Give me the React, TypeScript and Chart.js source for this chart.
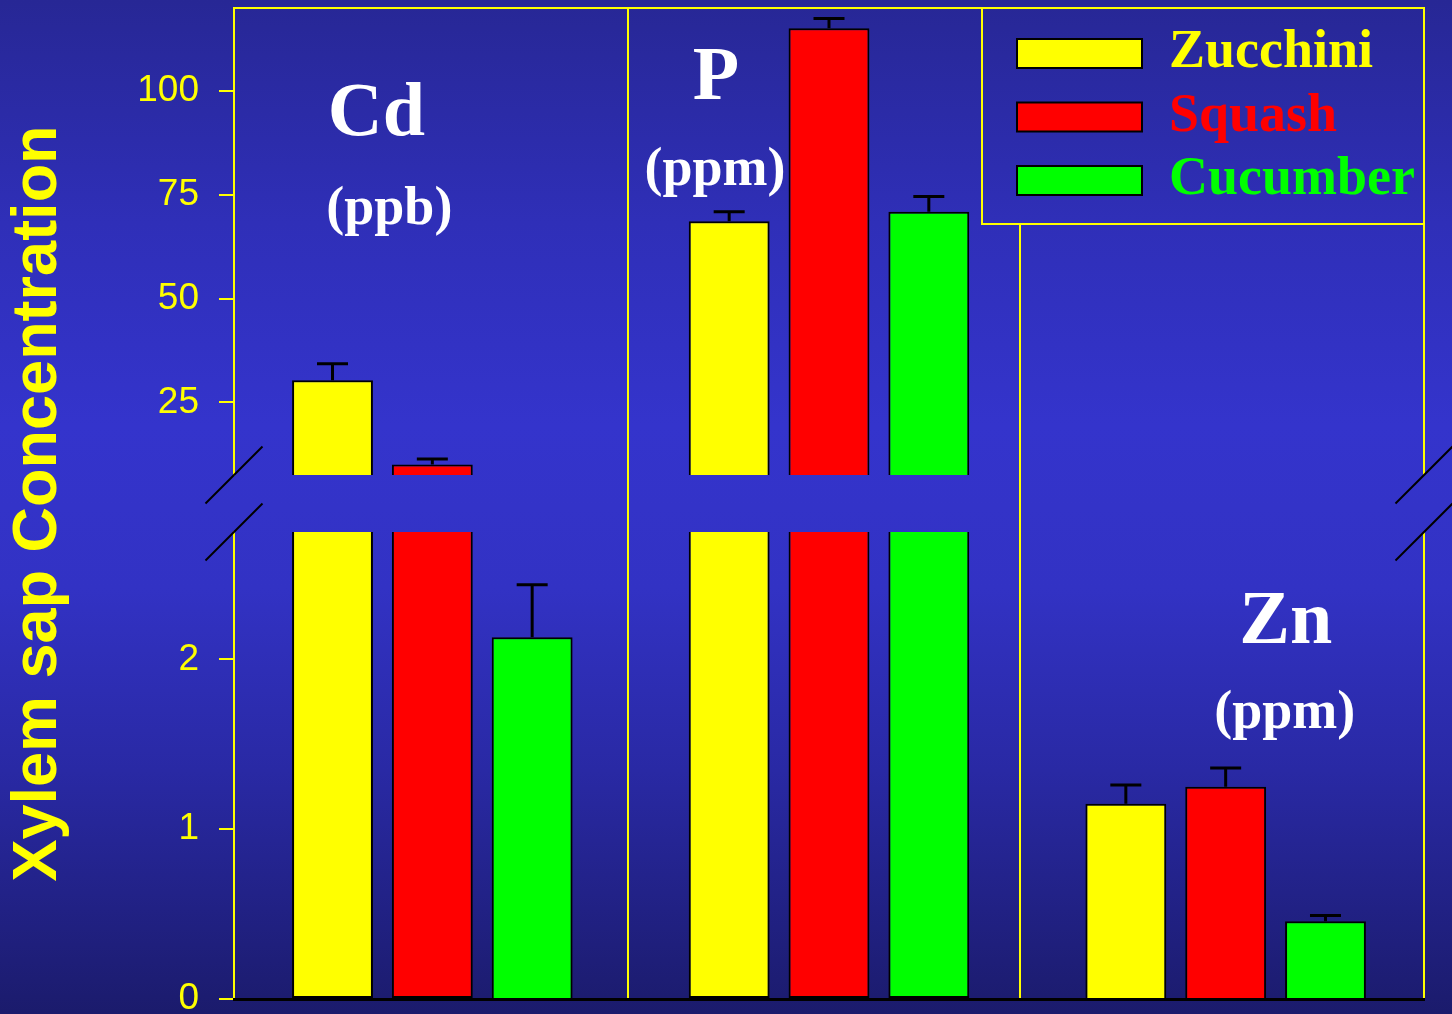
import React, { useEffect, useRef } from 'react';
import { Chart, registerables } from 'chart.js';

Chart.register(...registerables);

// ---- data ----
const CATEGORIES = ['Cd', 'P', 'Zn'];
const UNITS = ['(ppb)', '(ppm)', '(ppm)'];
const SERIES_NAMES = ['Zucchini', 'Squash', 'Cucumber'];
const ZUCCHINI = [30.3, 68.6, 1.15];
const SQUASH = [10.0, 115.1, 1.25];
const CUCUMBER = [2.13, 70.9, 0.458];
const ZUCCHINI_ERR = [4.0, 2.3, 0.11];
const SQUASH_ERR = [1.37, 2.4, 0.11];
const CUCUMBER_ERR = [0.31, 3.7, 0.033];
const LOWER_TICKS = [0, 1, 2];
const UPPER_TICKS = [25, 50, 75, 100];
const LOWER_RANGE = [0, 2.75];
const UPPER_RANGE = [7.5, 120];
const Y_TITLE = 'Xylem sap Concentration';

// ---- styles / layout ----
const SERIES_COLORS = ['#ffff00', '#ff0000', '#00ff00'];
const YELLOW = '#ffff00';
const AXIS_WIDTH = 234;
const SEPARATOR_SHIFT = [-3, -7];
const LABEL_LAYOUT = [
  { dx: -56, nameY: 127, unitDx: -43, unitY: 216 },
  { dx: -113, nameY: 91, unitDx: -114, unitY: 177 },
  { dx: 60, nameY: 635, unitDx: 59, unitY: 720 },
];

const decorPlugin = {
  id: 'decor',
  afterLayout(chart: any) {
    const lg = chart.legend;
    const ca = chart.chartArea;
    if (!lg) return;
    const w = lg.width;
    const h = lg.height;
    lg.left = ca.right - 416.5;
    lg.top = ca.top + 9;
    lg.right = lg.left + w;
    lg.bottom = lg.top + h;
  },
  beforeDatasetsDraw(chart: any) {
    const { ctx, chartArea: ca, scales } = chart;
    const xs = scales.x;
    const hi = scales.yHigh;
    const lo = scales.yLow;
    const boxL = ca.right - 442;
    const boxB = ca.top + 216;
    const line = (x1: number, y1: number, x2: number, y2: number) => {
      ctx.beginPath();
      ctx.moveTo(x1, y1);
      ctx.lineTo(x2, y2);
      ctx.stroke();
    };
    ctx.save();
    ctx.strokeStyle = YELLOW;
    ctx.lineWidth = 2;
    line(ca.left, ca.top, ca.right, ca.top);
    line(ca.right, hi.top, ca.right, hi.bottom);
    line(ca.right, lo.top, ca.right, lo.bottom);
    for (let i = 0; i < CATEGORIES.length - 1; i++) {
      const px = Math.round(xs.getPixelForValue(i + 0.5)) + (SEPARATOR_SHIFT[i] || 0);
      const y0 = px > boxL ? boxB : ca.top;
      line(px, y0, px, ca.bottom);
    }
    ctx.strokeRect(boxL, ca.top, ca.right - boxL, boxB - ca.top);
    ctx.restore();
  },
  afterDatasetsDraw(chart: any) {
    const { ctx, chartArea: ca, scales } = chart;
    const xs = scales.x;
    const hi = scales.yHigh;
    const lo = scales.yLow;
    const values = [ZUCCHINI, SQUASH, CUCUMBER];
    const errors = [ZUCCHINI_ERR, SQUASH_ERR, CUCUMBER_ERR];
    ctx.save();
    // error bars
    ctx.strokeStyle = '#000';
    ctx.lineWidth = 3;
    values.forEach((vals, s) => {
      const meta = chart.getDatasetMeta(s);
      vals.forEach((v, i) => {
        const el = meta.data[i];
        if (!el) return;
        const sc = v > LOWER_RANGE[1] ? hi : lo;
        const y0 = sc.getPixelForValue(v);
        const y1 = sc.getPixelForValue(v + errors[s][i]);
        ctx.beginPath();
        ctx.moveTo(el.x, y0);
        ctx.lineTo(el.x, y1);
        ctx.moveTo(el.x - 15.5, y1);
        ctx.lineTo(el.x + 15.5, y1);
        ctx.stroke();
      });
    });
    // axis break marks
    ctx.lineWidth = 2;
    [ca.left, ca.right].forEach((xc: number) => {
      [hi.bottom, lo.top].forEach((yc: number) => {
        ctx.beginPath();
        ctx.moveTo(xc - 28.5, yc + 28.5);
        ctx.lineTo(xc + 28.5, yc - 28.5);
        ctx.stroke();
      });
    });
    // element labels
    ctx.fillStyle = '#ffffff';
    ctx.textAlign = 'center';
    ctx.textBaseline = 'alphabetic';
    CATEGORIES.forEach((name, i) => {
      const cx = xs.getPixelForValue(i);
      const L = LABEL_LAYOUT[i];
      ctx.font = 'bold 76px "Liberation Serif"';
      ctx.fillText(name, cx + L.dx, ca.top + L.nameY);
      ctx.font = 'bold 54px "Liberation Serif"';
      ctx.fillText(UNITS[i], cx + L.unitDx, ca.top + L.unitY);
    });
    ctx.restore();
  },
};

function yScale(range: number[], tickVals: number[], weight: number, stackWeight: number) {
  return {
    type: 'linear',
    axis: 'y',
    position: 'left',
    stack: 'v',
    stackWeight,
    weight,
    min: range[0],
    max: range[1],
    stacked: false,
    afterBuildTicks: (axis: any) => {
      axis.ticks = tickVals.map((value) => ({ value }));
    },
    afterFit: (axis: any) => {
      axis.width = AXIS_WIDTH;
      axis.paddingTop = 0;
      axis.paddingBottom = 0;
      axis.paddingLeft = 0;
      axis.paddingRight = 0;
    },
    ticks: {
      color: YELLOW,
      font: { family: 'Liberation Sans', size: 37 },
      padding: 20,
    },
    grid: {
      display: true,
      drawOnChartArea: false,
      drawTicks: true,
      tickLength: 15,
      color: YELLOW,
      lineWidth: 2,
    },
    border: { display: true, color: YELLOW, width: 2 },
  };
}

export default function App() {
  const ref = useRef<HTMLCanvasElement>(null);

  useEffect(() => {
    if (!ref.current) return;
    const values = [ZUCCHINI, SQUASH, CUCUMBER];
    const lowMax = LOWER_RANGE[1];
    const highMin = UPPER_RANGE[0];

    const lowerSets = SERIES_NAMES.map((name, s) => ({
      label: name,
      data: values[s].map((v) => Math.min(v, lowMax)),
      yAxisID: 'yLow',
      stack: name,
      backgroundColor: SERIES_COLORS[s],
      borderColor: '#000000',
      borderWidth: 2,
      borderSkipped: values[s].map((v) => (v > lowMax ? 'top' : 'start')),
    }));
    const upperSets = SERIES_NAMES.map((name, s) => ({
      label: name + ' (upper)',
      data: values[s].map((v) => (v > highMin ? v : null)),
      yAxisID: 'yHigh',
      stack: name,
      backgroundColor: SERIES_COLORS[s],
      borderColor: '#000000',
      borderWidth: 2,
      borderSkipped: 'start',
    }));

    const chart = new Chart(ref.current, {
      type: 'bar',
      data: {
        labels: CATEGORIES,
        datasets: [...lowerSets, ...upperSets] as any,
      },
      options: {
        animation: false,
        responsive: true,
        maintainAspectRatio: false,
        layout: { padding: { top: 8, right: 28, bottom: 15, left: 0 } },
        datasets: {
          bar: { categoryPercentage: 0.755, barPercentage: 0.81 },
        },
        scales: {
          x: {
            type: 'category',
            ticks: { display: false },
            grid: { display: false, drawTicks: false },
            border: { display: true, color: '#000000', width: 3, z: 1 },
            afterFit: (axis: any) => {
              axis.height = 0;
              axis.paddingLeft = 0;
              axis.paddingRight = 0;
              axis.paddingTop = 0;
              axis.paddingBottom = 0;
            },
          },
          yHigh: yScale(UPPER_RANGE, UPPER_TICKS, 3, 467),
          yGap: {
            type: 'linear',
            axis: 'y',
            position: 'left',
            stack: 'v',
            stackWeight: 57,
            weight: 2,
            min: 0,
            max: 1,
            ticks: { display: false },
            grid: { display: false, drawTicks: false },
            border: { display: false },
            title: {
              display: true,
              text: Y_TITLE,
              color: YELLOW,
              font: { family: 'Liberation Sans', weight: 'bold', size: 63 },
              padding: { top: 1, bottom: 0 },
            },
            afterFit: (axis: any) => {
              axis.width = AXIS_WIDTH;
              axis.paddingTop = 0;
              axis.paddingBottom = 0;
            },
          },
          yLow: yScale(LOWER_RANGE, LOWER_TICKS, 1, 467),
        } as any,
        plugins: {
          tooltip: { enabled: false },
          legend: {
            position: 'chartArea' as any,
            align: 'start',
            onClick: () => {},
            labels: {
              boxWidth: 125,
              boxHeight: 29,
              padding: 9.5,
              font: { family: 'Liberation Serif', weight: 'bold', size: 54 },
              filter: (item: any) => item.datasetIndex < SERIES_NAMES.length,
              generateLabels: (c: any) =>
                (Chart.defaults.plugins.legend.labels as any).generateLabels(c).map((it: any) => ({
                  ...it,
                  fontColor: SERIES_COLORS[it.datasetIndex % SERIES_COLORS.length],
                  strokeStyle: '#000000',
                  lineWidth: 2,
                })),
            },
          },
        },
      },
      plugins: [decorPlugin],
    });
    return () => chart.destroy();
  }, []);

  return (
    <div
      style={{
        position: 'absolute',
        left: 0,
        top: 0,
        width: 1452,
        height: 1014,
        overflow: 'hidden',
        background:
          'linear-gradient(to bottom, #272795 0%, #2f2fb8 22%, #3434cc 42%, #3232c4 58%, #2929a4 76%, #1b1b6c 100%)',
      }}
    >
      <canvas ref={ref} />
    </div>
  );
}
